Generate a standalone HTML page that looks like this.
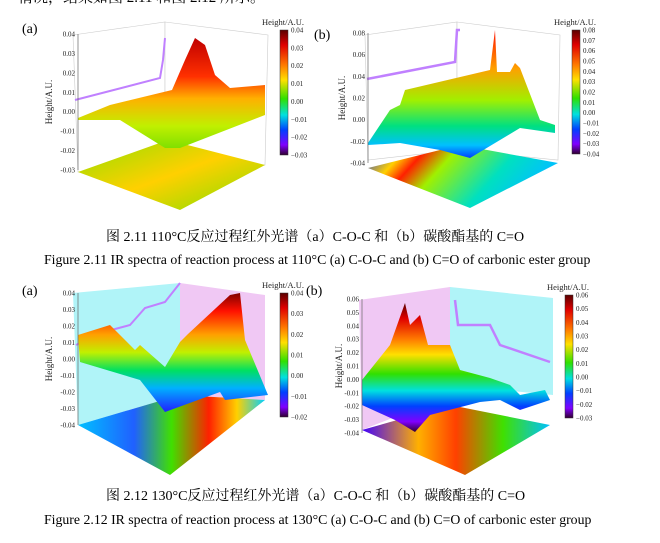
<!DOCTYPE html>
<html><head><meta charset="utf-8"><style>
body{margin:0;background:#fff;width:660px;height:543px;overflow:hidden;position:relative;font-family:"Liberation Serif","Noto Serif CJK SC",serif}
.t{position:absolute;white-space:nowrap;color:#000}
svg{position:absolute;left:0;top:0}
</style></head><body>
<div class="t" style="left:18px;top:-14px;font-size:15px;font-family:'Liberation Serif','Noto Serif CJK SC',serif">情况，结果如图 2.11 和图 2.12 所示。</div>
<svg width="660" height="543" font-family="Liberation Serif, serif">
<defs>
<linearGradient id="rb" x1="0" y1="0" x2="0" y2="1">
<stop offset="0" stop-color="#5a0000"/><stop offset="0.12" stop-color="#e00000"/><stop offset="0.28" stop-color="#ff7a00"/><stop offset="0.4" stop-color="#ffe000"/><stop offset="0.55" stop-color="#30e000"/><stop offset="0.68" stop-color="#00e0e0"/><stop offset="0.8" stop-color="#0040ff"/><stop offset="0.92" stop-color="#8000ff"/><stop offset="1" stop-color="#300030"/>
</linearGradient>
<linearGradient id="s1" x1="0" y1="0" x2="0" y2="1"><stop offset="0" stop-color="#c00000"/><stop offset="0.35" stop-color="#ff3000"/><stop offset="0.55" stop-color="#ffb000"/><stop offset="0.8" stop-color="#c0f000"/><stop offset="1" stop-color="#80e000"/></linearGradient>
<linearGradient id="s2" x1="0" y1="0" x2="0" y2="1"><stop offset="0" stop-color="#ff1000"/><stop offset="0.3" stop-color="#ffa000"/><stop offset="0.55" stop-color="#a0f000"/><stop offset="0.75" stop-color="#00e080"/><stop offset="0.9" stop-color="#00c0ff"/><stop offset="1" stop-color="#0040ff"/></linearGradient>
<linearGradient id="s3" x1="0" y1="0" x2="0" y2="1"><stop offset="0" stop-color="#800000"/><stop offset="0.15" stop-color="#ff1000"/><stop offset="0.35" stop-color="#ffa000"/><stop offset="0.5" stop-color="#c0f000"/><stop offset="0.65" stop-color="#00e060"/><stop offset="0.8" stop-color="#00b0ff"/><stop offset="1" stop-color="#2020ff"/></linearGradient>
<linearGradient id="f1" x1="0" y1="0" x2="1" y2="1"><stop offset="0" stop-color="#90e000"/><stop offset="0.5" stop-color="#ffd000"/><stop offset="1" stop-color="#80e000"/></linearGradient>
<linearGradient id="f2" x1="0" y1="0" x2="1" y2="0.3"><stop offset="0" stop-color="#0030ff"/><stop offset="0.2" stop-color="#ffd000"/><stop offset="0.3" stop-color="#ff2000"/><stop offset="0.45" stop-color="#a0f000"/><stop offset="0.75" stop-color="#00e0c0"/><stop offset="1" stop-color="#00c0ff"/></linearGradient>
<linearGradient id="f3" x1="0" y1="0" x2="1" y2="0"><stop offset="0" stop-color="#00c0ff"/><stop offset="0.3" stop-color="#2060ff"/><stop offset="0.5" stop-color="#40e000"/><stop offset="0.7" stop-color="#ff2000"/><stop offset="0.85" stop-color="#ffd000"/><stop offset="1" stop-color="#00d0ff"/></linearGradient>
<linearGradient id="f4" x1="0" y1="0" x2="1" y2="0"><stop offset="0" stop-color="#4000ff"/><stop offset="0.3" stop-color="#ffb000"/><stop offset="0.5" stop-color="#ff4000"/><stop offset="0.75" stop-color="#40e000"/><stop offset="1" stop-color="#00c0ff"/></linearGradient>
</defs>

<g>
<polygon points="73,35 165,22 165,160 78,172" fill="#fff" stroke="#ccc" stroke-width="0.6"/>
<polygon points="165,22 268,35 265,165 165,160" fill="#fff" stroke="#ccc" stroke-width="0.6"/>
<polygon points="78,172 168,140 265,165 180,210" fill="url(#f1)"/>
<polyline points="75,100 160,78 163,60 165,38" fill="none" stroke="#c080ff" stroke-width="2"/>
<polygon points="78,118 110,105 172,90 185,60 195,38 205,45 215,75 230,88 265,85 265,115 180,148 165,148 120,120 78,120" fill="url(#s1)"/>
</g>
<g>
<polygon points="365,35 457,22 457,150 368,160" fill="#fff" stroke="#ccc" stroke-width="0.6"/>
<polygon points="457,22 560,35 558,160 457,150" fill="#fff" stroke="#ccc" stroke-width="0.6"/>
<polygon points="368,168 460,145 558,163 470,208" fill="url(#f2)"/>
<polyline points="367,79 455,62 457,30 460,30" fill="none" stroke="#c080ff" stroke-width="2.5"/>
<polygon points="368,143 390,110 400,105 405,90 490,70 495,30 497,72 510,72 515,63 520,68 540,120 555,125 555,133 520,128 470,158 440,150 400,143 368,145" fill="url(#s2)"/>
</g>

<g>
<polygon points="73,293 180,283 180,395 78,425" fill="#b0f4f8"/>
<polygon points="180,283 265,295 265,400 180,395" fill="#f0c8f4"/>
<polygon points="78,425 180,395 265,400 170,475" fill="url(#f3)"/>
<polyline points="76,345 100,333 130,325 145,308 165,302 180,283" fill="none" stroke="#c080ff" stroke-width="2"/>
<polygon points="78,335 110,325 130,345 135,350 140,345 165,367 180,342 188,334 230,295 240,293 245,340 268,395 225,400 220,392 165,412 140,380 80,362" fill="url(#s3)"/>
</g>
<g>
<polygon points="359,300 450,287 450,395 362,430" fill="#f0c8f4"/>
<polygon points="450,287 553,298 553,395 450,385" fill="#b0f4f8"/>
<polygon points="362,430 450,405 550,425 465,475" fill="url(#f4)"/>
<polyline points="455,300 458,325 490,325 500,345 550,362" fill="none" stroke="#c080ff" stroke-width="2.5"/>
<polygon points="362,380 390,345 405,303 410,325 420,315 428,345 450,345 460,370 490,378 510,385 520,395 545,390 550,400 520,410 500,400 480,402 430,415 415,432 395,420 362,405" fill="url(#rb)"/>
</g>

<g id="axes" font-size="7" fill="#222"></g>
</svg>

<div class="t" style="left:22px;top:22px;font-size:14px">(a)</div>
<div class="t" style="left:314px;top:28px;font-size:14px">(b)</div>
<div class="t" style="left:22px;top:284px;font-size:14px">(a)</div>
<div class="t" style="left:306px;top:284px;font-size:14px">(b)</div>

<div class="t" style="left:106px;top:226px;font-size:14px">图 2.11 110°C反应过程红外光谱（a）C-O-C 和（b）碳酸酯基的 C=O</div>
<div class="t" style="left:44px;top:252px;font-size:13.8px">Figure 2.11 IR spectra of reaction process at 110°C (a) C-O-C and (b) C=O of carbonic ester group</div>
<div class="t" style="left:106px;top:485px;font-size:14px">图 2.12 130°C反应过程红外光谱（a）C-O-C 和（b）碳酸酯基的 C=O</div>
<div class="t" style="left:44px;top:512px;font-size:13.8px">Figure 2.12 IR spectra of reaction process at 130°C (a) C-O-C and (b) C=O of carbonic ester group</div>

<script>
const yTicksA1 = ["0.04","0.03","0.02","0.01","0.00","-0.01","-0.02","-0.03"];
const yTicksB1 = ["0.08","0.06","0.04","0.02","0.00","-0.02","-0.04"];
const yTicksA2 = ["0.04","0.03","0.02","0.01","0.00","-0.01","-0.02","-0.03","-0.04"];
const yTicksB2 = ["0.06","0.05","0.04","0.03","0.02","0.01","0.00","-0.01","-0.02","-0.03","-0.04"];
const cbTicksA1 = ["0.04","0.03","0.02","0.01","0.00","-0.01","-0.02","-0.03"];
const cbTicksB1 = ["0.08","0.07","0.06","0.05","0.04","0.03","0.02","0.01","0.00","-0.01","-0.02","-0.03","-0.04"];
const cbTicksA2 = ["0.04","0.03","0.02","0.01","0.00","-0.01","-0.02"];
const cbTicksB2 = ["0.06","0.05","0.04","0.03","0.02","0.01","0.00","-0.01","-0.02","-0.03"];
const NS="http://www.w3.org/2000/svg";
const g=document.getElementById('axes');
function el(t,a){const e=document.createElementNS(NS,t);for(const k in a)e.setAttribute(k,a[k]);g.appendChild(e);return e;}
function yAxis(ticks,x,y0,y1,tx){
  const l=el('line',{x1:x,y1:y0,x2:x,y2:y1,stroke:'#666','stroke-width':0.7});
  
  
  ticks.forEach((v,i)=>{const y=y0+(y1-y0)*i/(ticks.length-1);
    const t=el('text',{x:x-3,y:y+2.5,'text-anchor':'end'});t.textContent=v;
    
    });
  const tt=el('text',{x:tx,y:(y0+y1)/2,'font-size':9,transform:`rotate(-90 ${tx} ${(y0+y1)/2})`,'text-anchor':'middle'});
  tt.textContent='Height/A.U.';
  
  
}
function colorbar(ticks,x,y0,y1){
  const r=el('rect',{x:x,y:y0,width:8,height:y1-y0,fill:'url(#rb)',stroke:'#333','stroke-width':0.5});
  
  
  const h=el('text',{x:x-18,y:y0-5,'font-size':8.5});h.textContent='Height/A.U.';
  
  
  ticks.forEach((v,i)=>{const y=y0+(y1-y0)*i/(ticks.length-1);
    const t=el('text',{x:x+11,y:y+2.5});t.textContent=(v[0]=='-'?'\u2212'+v.slice(1):v);
    
    });
}
yAxis(yTicksA1,78,34,170,52);
yAxis(yTicksB1,368,33,163,345);
yAxis(yTicksA2,78,293,425,52);
yAxis(yTicksB2,362,299,433,342);
colorbar(cbTicksA1,280,30,155);
colorbar(cbTicksB1,572,30,154);
colorbar(cbTicksA2,280,293,417);
colorbar(cbTicksB2,565,295,418);
</script>
</body></html>
